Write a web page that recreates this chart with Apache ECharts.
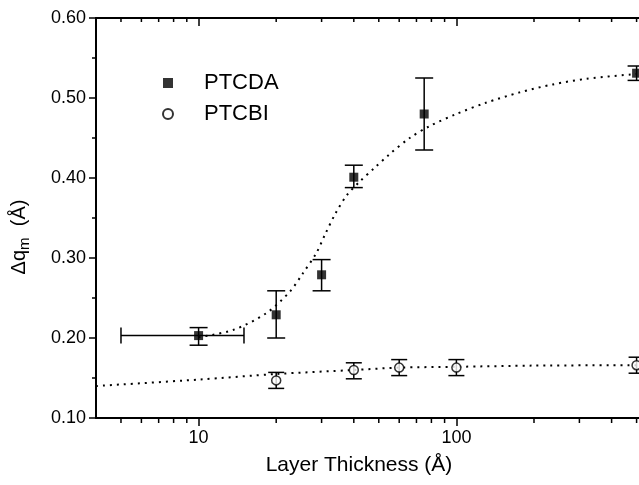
<!DOCTYPE html>
<html>
<head>
<meta charset="utf-8">
<script src="https://cdn.jsdelivr.net/npm/echarts@6/dist/echarts.min.js"></script>
<style>
html,body{margin:0;padding:0;background:#fff;overflow:hidden;width:639px;height:485px;}
#c{position:absolute;left:0;top:0;width:700px;height:485px;}
</style>
</head>
<body>
<div id="c"></div>
<script>
// ---- data ----
const xTickLabels = [10, 100];
const minorTickValues = [5, 6, 7, 8, 9, 20, 30, 40, 50, 60, 70, 80, 90, 200, 300, 400, 500];

const ptcdaX    = [10, 20, 30, 40, 75, 500];
const ptcdaY    = [0.203, 0.229, 0.279, 0.401, 0.480, 0.531];
const ptcdaLow  = [0.191, 0.200, 0.259, 0.388, 0.435, 0.522];
const ptcdaHigh = [0.213, 0.259, 0.298, 0.416, 0.525, 0.540];
const ptcdaXLow  = [5, null, null, null, null, null];
const ptcdaXHigh = [15, null, null, null, null, null];

const ptcbiX    = [20, 40, 60, 100, 500];
const ptcbiY    = [0.147, 0.160, 0.163, 0.163, 0.166];
const ptcbiLow  = [0.137, 0.149, 0.153, 0.153, 0.156];
const ptcbiHigh = [0.157, 0.169, 0.173, 0.173, 0.176];

const ptcdaFitX = [10, 13.6, 18.3, 22.6, 25.4, 28.6, 31, 34, 37.5, 42, 47.9, 54.7, 65.9, 78.9, 100, 130, 176, 237, 319, 500];
const ptcdaFitY = [0.201, 0.210, 0.231, 0.258, 0.281, 0.306, 0.330, 0.356, 0.378, 0.395, 0.412, 0.429, 0.450, 0.465, 0.480, 0.494, 0.507, 0.517, 0.524, 0.530];

const ptcbiFitX = [4, 10, 20, 40, 60, 100, 200, 500];
const ptcbiFitY = [0.140, 0.148, 0.155, 0.160, 0.163, 0.164, 0.1655, 0.166];

// ---- chart ----
const FONT = '"Liberation Sans", Arial, Helvetica, sans-serif';
const zip = (a, b) => a.map((v, i) => [v, b[i]]);

const errData = (xs, ys, lo, hi, xl, xh) => xs.map((x, i) => [x, ys[i], lo[i], hi[i],
  xl && xl[i] != null ? xl[i] : NaN, xh && xh[i] != null ? xh[i] : NaN]);

function errRender(capHalf) {
  return function (params, api) {
    const x = api.value(0), y = api.value(1), lo = api.value(2), hi = api.value(3);
    const xl = api.value(4), xh = api.value(5);
    const pLo = api.coord([x, lo]), pHi = api.coord([x, hi]);
    const st = {stroke: '#000', lineWidth: 1.5};
    const ch = [
      {type: 'line', shape: {x1: pLo[0], y1: pLo[1], x2: pHi[0], y2: pHi[1]}, style: st},
      {type: 'line', shape: {x1: pLo[0] - capHalf, y1: pLo[1], x2: pLo[0] + capHalf, y2: pLo[1]}, style: st},
      {type: 'line', shape: {x1: pHi[0] - capHalf, y1: pHi[1], x2: pHi[0] + capHalf, y2: pHi[1]}, style: st}
    ];
    if (!isNaN(xl) && !isNaN(xh)) {
      const pL = api.coord([xl, y]), pR = api.coord([xh, y]);
      ch.push({type: 'line', shape: {x1: pL[0], y1: pL[1], x2: pR[0], y2: pR[1]}, style: st});
      ch.push({type: 'line', shape: {x1: pL[0], y1: pL[1] - 8, x2: pL[0], y2: pL[1] + 8}, style: st});
      ch.push({type: 'line', shape: {x1: pR[0], y1: pR[1] - 8, x2: pR[0], y2: pR[1] + 8}, style: st});
    }
    return {type: 'group', children: ch};
  };
}

const chart = echarts.init(document.getElementById('c'), null, {renderer: 'canvas'});
chart.setOption({
  animation: false,
  backgroundColor: '#fff',
  textStyle: {fontFamily: FONT, color: '#000'},
  grid: {left: 96, right: 43, top: 18, bottom: 67, containLabel: false},
  legend: {
    orient: 'vertical', left: 157, top: 67, itemWidth: 10, itemHeight: 10, itemGap: 9,
    data: ['PTCDA', 'PTCBI'],
    textStyle: {fontFamily: FONT, fontSize: 22, color: '#000', padding: [0, 0, 0, 26]}
  },
  xAxis: [{
    type: 'log', logBase: 10, min: 4, max: 600,
    position: 'bottom',
    name: 'Layer Thickness (Å)', nameLocation: 'middle', nameGap: 37,
    nameTextStyle: {fontFamily: FONT, fontSize: 21, color: '#000', padding: [0, 35, 0, 0]},
    axisLine: {show: true, lineStyle: {color: '#000', width: 2}},
    axisTick: {show: true, inside: false, length: 8, lineStyle: {color: '#000', width: 1.5}},
    axisLabel: {show: true, fontSize: 18, color: '#000', margin: 11, fontFamily: FONT,
      showMinLabel: false, showMaxLabel: false,
      formatter: v => (xTickLabels.indexOf(Math.round(v)) >= 0 ? String(Math.round(v)) : '')},
    splitLine: {show: false}
  }, {
    type: 'log', logBase: 10, min: 4, max: 600,
    position: 'top',
    axisLine: {show: true, lineStyle: {color: '#000', width: 2}},
    axisTick: {show: true, inside: true, length: 8, lineStyle: {color: '#000', width: 1.5}},
    axisLabel: {show: false},
    splitLine: {show: false}
  }],
  yAxis: [{
    type: 'value', min: 0.1, max: 0.6, interval: 0.1,
    name: '{n|Δq}{s|m}{n|  (Å)}', nameLocation: 'middle', nameGap: 64, nameRotate: 90,
    nameTextStyle: {fontFamily: FONT, color: '#000', padding: [0, 38, 0, 0],
      rich: {
        n: {fontFamily: FONT, fontSize: 20, color: '#000'},
        s: {fontFamily: FONT, fontSize: 15, color: '#000', padding: [10, 0, 0, 0], verticalAlign: 'bottom'}
      }},
    axisLine: {show: true, lineStyle: {color: '#000', width: 2}},
    axisTick: {show: true, inside: false, length: 7, lineStyle: {color: '#000', width: 1.5}},
    minorTick: {show: true, splitNumber: 2, length: 4, lineStyle: {color: '#000', width: 1.5}},
    axisLabel: {fontSize: 18, color: '#000', margin: 10, fontFamily: FONT, formatter: v => v.toFixed(2)},
    splitLine: {show: false}
  }],
  series: [
    {
      name: 'minorTicks', type: 'custom', xAxisIndex: 0, yAxisIndex: 0, silent: true, clip: false, z: 5,
      data: minorTickValues.map(v => [v, 0.1, 0.6]),
      encode: {x: 0, y: 1},
      renderItem: function (params, api) {
        const v = api.value(0);
        const pb = api.coord([v, api.value(1)]);
        const pt = api.coord([v, api.value(2)]);
        const st = {stroke: '#000', lineWidth: 1.5};
        return {type: 'group', children: [
          {type: 'line', shape: {x1: pb[0], y1: pb[1], x2: pb[0], y2: pb[1] + 5}, style: st},
          {type: 'line', shape: {x1: pt[0], y1: pt[1], x2: pt[0], y2: pt[1] + 4}, style: st}
        ]};
      }
    },
    {
      name: 'PTCDA fit', type: 'line', data: zip(ptcdaFitX, ptcdaFitY), smooth: 0.3,
      showSymbol: false, silent: true, z: 1,
      lineStyle: {color: '#000', width: 2, type: [2, 5]}
    },
    {
      name: 'PTCBI fit', type: 'line', data: zip(ptcbiFitX, ptcbiFitY), smooth: 0.3,
      showSymbol: false, silent: true, z: 1,
      lineStyle: {color: '#000', width: 2, type: [2, 5]}
    },
    {
      name: 'PTCDA err', type: 'custom', silent: true, z: 2,
      data: errData(ptcdaX, ptcdaY, ptcdaLow, ptcdaHigh, ptcdaXLow, ptcdaXHigh),
      encode: {x: 0, y: 1}, renderItem: errRender(9)
    },
    {
      name: 'PTCBI err', type: 'custom', silent: true, z: 2,
      data: errData(ptcbiX, ptcbiY, ptcbiLow, ptcbiHigh, null, null),
      encode: {x: 0, y: 1}, renderItem: errRender(8)
    },
    {
      name: 'PTCDA', type: 'scatter', data: zip(ptcdaX, ptcdaY), symbol: 'rect', symbolSize: 9, z: 3,
      itemStyle: {color: '#000'}
    },
    {
      name: 'PTCBI', type: 'scatter', data: zip(ptcbiX, ptcbiY), symbol: 'circle', symbolSize: 9, z: 3,
      itemStyle: {color: '#fff', borderColor: '#000', borderWidth: 1.5}
    }
  ]
});
</script>
</body>
</html>
